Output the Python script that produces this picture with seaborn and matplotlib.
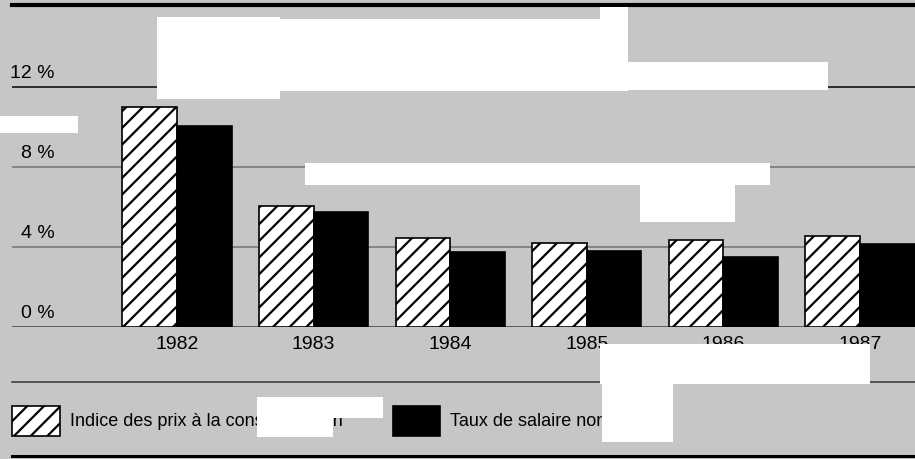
import numpy as np
import pandas as pd
import matplotlib.pyplot as plt
import seaborn as sns
from matplotlib import font_manager
from matplotlib.patches import Rectangle
from matplotlib.lines import Line2D

annees = ['1982', '1983', '1984', '1985', '1986', '1987']
prix = [11.0, 6.05, 4.45, 4.2, 4.35, 4.55]
salaire = [10.05, 5.77, 3.75, 3.78, 3.5, 4.15]
series = ['Indice des prix à la consommation', 'Taux de salaire nominal']
yticks = [0, 4, 8, 12]

df = pd.DataFrame({
    'annee': annees * 2,
    'valeur': prix + salaire,
    'serie': [series[0]] * len(annees) + [series[1]] * len(annees),
})

plt.rcParams['font.family'] = ['Liberation Sans', 'DejaVu Sans']
plt.rcParams['hatch.linewidth'] = 1.6

# police etroite pour la legende si disponible
installees = {f.name for f in font_manager.fontManager.ttflist}
if 'Liberation Sans Narrow' in installees:
    police_leg, taille_leg = 'Liberation Sans Narrow', 14.5
else:
    police_leg, taille_leg = 'Liberation Sans', 13

W, H = 915, 460
fig = plt.figure(figsize=(W / 100, H / 100), dpi=100)
fig.patch.set_facecolor('#c6c6c6')


def fx(x):
    return x / W


def fy(y):
    return 1 - y / H


# zone du graphique (0 % a y=328 px, 20 px par point)
ax = fig.add_axes([fx(12), fy(328), 903 / W, 260 / H])
ax.set_facecolor('none')

sns.barplot(data=df, x='annee', y='valeur', hue='serie',
            palette=['white', 'black'], edgecolor='black', linewidth=1.2,
            width=0.8, saturation=1, legend=False, ax=ax, zorder=2)
for bar in ax.containers[0]:
    bar.set_hatch('//')

ax.set_ylim(0, 13)
ax.set_xlim(-1.208, 5.403)
for s in ax.spines.values():
    s.set_visible(False)
ax.set_yticks([])
ax.set_xlabel('')
ax.set_ylabel('')
ax.tick_params(axis='x', length=0, pad=6, labelsize=14)

# lignes horizontales et libelles en %
couleurs = ['#555555', '#808080', '#808080', '#222222']
for v, c in zip(yticks, couleurs):
    ax.axhline(v, color=c, lw=1.3, zorder=0.5)
    ax.text(0.0476, v + 0.3, f'{v} %', transform=ax.get_yaxis_transform(),
            ha='right', va='bottom', fontsize=14)

# filets du cadre
for y, lw, c in [(5.5, 3.0, 'black'), (383, 1.1, '#333333'), (456.5, 2.2, 'black')]:
    fig.add_artist(Line2D([fx(12), 1], [fy(y), fy(y)], transform=fig.transFigure,
                          color=c, lw=lw))

# legende
fig.add_artist(Rectangle((fx(12), fy(437)), 48 / W, 30 / H, transform=fig.transFigure,
                         facecolor='white', edgecolor='black', hatch='//', lw=1.2))
fig.text(fx(70), fy(422), series[0], fontsize=taille_leg, family=police_leg,
         va='center', ha='left')
fig.add_artist(Rectangle((fx(393), fy(437)), 47 / W, 30 / H, transform=fig.transFigure,
                         facecolor='black', edgecolor='black', lw=1.2))
fig.text(fx(450), fy(422), series[1], fontsize=taille_leg, family=police_leg,
         va='center', ha='left')

# taches blanches du document scanne
taches = [(157, 20, 628, 92), (157, 18, 280, 100), (600, 8, 628, 65),
          (600, 63, 828, 91), (305, 164, 770, 186), (640, 180, 735, 223),
          (0, 117, 78, 134), (600, 345, 870, 385), (602, 385, 673, 443),
          (257, 398, 333, 438), (333, 398, 383, 419)]
for x0, y0, x1, y1 in taches:
    fig.add_artist(Rectangle((fx(x0), fy(y1)), (x1 - x0) / W, (y1 - y0) / H,
                             transform=fig.transFigure, facecolor='white',
                             edgecolor='none', zorder=5))

fig.savefig('out.png', dpi=100, facecolor=fig.get_facecolor())
